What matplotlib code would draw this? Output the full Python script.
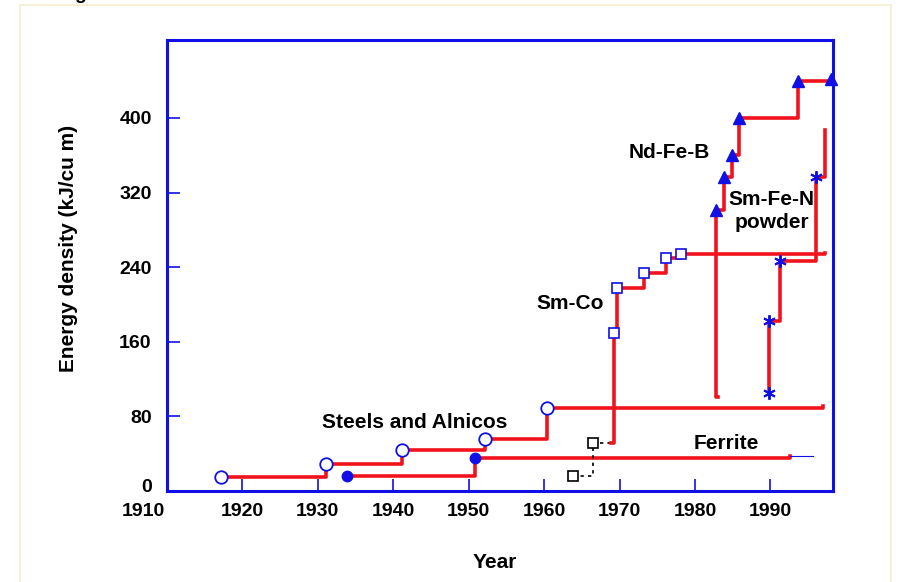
import matplotlib.pyplot as plt
import matplotlib.transforms as mtransforms
from matplotlib.patches import Rectangle

# values (year, energy density in kJ/cu m)
steel_year = [1917.1, 1931.1, 1941.1, 1952.1, 1960.4, 1997.0]
steel_bh = [15, 29, 44, 56, 89, 91]

alnico_year = [1933.8, 1950.9, 1992.6]
alnico_bh = [16, 35, 37]

ferrite_year = [1963.8, 1966.5, 1969.0]
ferrite_bh = [16, 52, 52]

smco_year = [1968.9, 1969.2, 1969.6, 1973.2, 1976.2, 1978.1, 1997.3]
smco_bh = [52, 169, 218, 234, 250, 254, 255]

ndfeb_year = [1983.1, 1982.8, 1983.9, 1984.9, 1985.9, 1993.6, 1998.0]
ndfeb_bh = [101, 301, 337, 360, 400, 440, 442]

smfen_year = [1989.8, 1989.8, 1991.3, 1996.1, 1997.3]
smfen_bh = [105, 182, 247, 337, 387]

x_ticks = list(range(1910, 1991, 10))
y_ticks = list(range(0, 401, 80))

RED = '#f2121c'
BLUE = '#1010e6'

plt.rcParams['font.family'] = ['Liberation Sans', 'DejaVu Sans']
plt.rcParams['font.weight'] = 'bold'

fig = plt.figure(figsize=(8.98, 5.82), dpi=100)
ax = fig.add_axes([167 / 898, 1 - 491 / 582, (833 - 167) / 898, (491 - 40) / 582])

# faint frame around the slide
fig.patches.append(Rectangle((20 / 898, -0.1), (891 - 20) / 898, 1.1 - 5 / 582,
                             transform=fig.transFigure, fill=False,
                             edgecolor='#f6eed0', lw=1.2))
fig.text(80 / 898, 1 + 1 / 582, 'g', fontsize=14, fontweight='bold',
         ha='center', va='baseline')

lw = 2.6

# steels and alnicos
ax.plot(steel_year, steel_bh, drawstyle='steps-post', color=RED, lw=lw, zorder=2)
ax.plot(steel_year[:-1], steel_bh[:-1], ls='none', marker='o', ms=9,
        mfc='white', mec=BLUE, mew=1.3, zorder=3)

ax.plot(alnico_year, alnico_bh, drawstyle='steps-post', color=RED, lw=lw, zorder=2)
ax.plot([alnico_year[-1], 1995.7], [alnico_bh[-1], alnico_bh[-1]], color=BLUE, lw=0.8)
ax.plot(alnico_year[:-1], alnico_bh[:-1], ls='none', marker='o', ms=7.5,
        color=BLUE, zorder=3)

# ferrite
ax.plot(ferrite_year, ferrite_bh, drawstyle='steps-post', color='black', lw=1.2,
        ls=(0, (2, 2.5)), zorder=2)
ax.plot(ferrite_year[:-1], ferrite_bh[:-1], ls='none', marker='s', ms=6.5,
        mfc='white', mec='black', mew=1.2, zorder=3)

# Sm-Co
ax.plot(smco_year, smco_bh, drawstyle='steps-post', color=RED, lw=lw, zorder=2)
ax.plot(smco_year[1:-1], smco_bh[1:-1], ls='none', marker='s', ms=6.5,
        mfc='white', mec=BLUE, mew=1.2, zorder=3)

# Nd-Fe-B
ax.plot(ndfeb_year, ndfeb_bh, drawstyle='steps-post', color=RED, lw=lw, zorder=2)
ax.plot(ndfeb_year[1:], ndfeb_bh[1:], ls='none', marker='^', ms=8,
        color=BLUE, zorder=3, clip_on=False)

# Sm-Fe-N powder
ax.plot(smfen_year, smfen_bh, drawstyle='steps-post', color=RED, lw=lw, zorder=2)
ax.plot(smfen_year[:-1], smfen_bh[:-1], ls='none', marker=(6, 2, 0), ms=9,
        mec=BLUE, mew=1.4, zorder=3)

txt = dict(fontsize=15, fontweight='bold', ha='center', va='center')
ax.text(1942.8, 73, 'Steels and Alnicos', **txt)
ax.text(1984.1, 51, 'Ferrite', **txt)
ax.text(1963.4, 201, 'Sm-Co', **txt)
ax.text(1976.6, 363, 'Nd-Fe-B', **txt)
ax.text(1990.2, 313, 'Sm-Fe-N', **txt)
ax.text(1990.2, 288, 'powder', **txt)

ax.set_xlim(1910, 1998.3)
ax.set_ylim(0, 483.6)
ax.set_xticks(x_ticks)
ax.set_yticks(y_ticks)
ax.tick_params(direction='in', length=9, width=1.2, color=BLUE,
               labelsize=14, pad=9)
ax.tick_params(axis='y', pad=11)
for s in ax.spines.values():
    s.set_color(BLUE)
    s.set_linewidth(2.2)

# corner labels sit a little off their ticks in the original
lab = ax.xaxis.get_major_ticks()[0].label1
lab.set_transform(lab.get_transform() +
                  mtransforms.ScaledTranslation(-0.235, 0, fig.dpi_scale_trans))
lab = ax.yaxis.get_major_ticks()[0].label1
lab.set_transform(lab.get_transform() +
                  mtransforms.ScaledTranslation(0, 0.06, fig.dpi_scale_trans))

fig.text(68 / 898, 1 - 248 / 582, 'Energy density (kJ/cu m)', rotation=90,
         fontsize=15, fontweight='bold', ha='center', va='center')
fig.text(495 / 898, 1 - 562 / 582, 'Year', fontsize=15, fontweight='bold',
         ha='center', va='center')

fig.savefig('out.png', dpi=100)
